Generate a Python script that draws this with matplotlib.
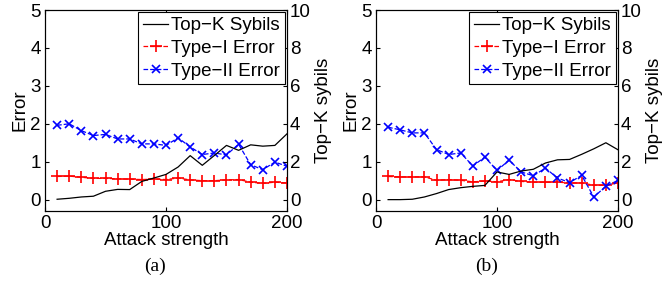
import numpy as np
import matplotlib
matplotlib.use('Agg')
import matplotlib.pyplot as plt

plt.rcParams['font.family'] = ['Liberation Sans', 'DejaVu Sans']
plt.rcParams['font.size'] = 13.5

# attack strength
strength = [10, 20, 30, 40, 50, 60, 70, 80, 90, 100,
            110, 120, 130, 140, 150, 160, 170, 180, 190, 200]

# panel (a)
topk_a = [0.02, 0.07, 0.14, 0.18, 0.44, 0.54, 0.53, 0.96, 1.14, 1.33,
          1.72, 2.32, 1.81, 2.33, 2.86, 2.60, 2.89, 2.82, 2.86, 3.47]
type1_a = [0.61, 0.62, 0.59, 0.56, 0.56, 0.55, 0.54, 0.53, 0.54, 0.53,
           0.57, 0.52, 0.50, 0.50, 0.52, 0.53, 0.46, 0.43, 0.46, 0.44]
type2_a = [1.96, 2.00, 1.82, 1.69, 1.72, 1.60, 1.60, 1.47, 1.47, 1.43,
           1.63, 1.39, 1.19, 1.23, 1.18, 1.46, 0.92, 0.79, 0.99, 0.88]

# panel (b)
topk_b = [0.00, 0.00, 0.02, 0.14, 0.32, 0.53, 0.63, 0.70, 0.75, 1.46,
          1.33, 1.51, 1.60, 1.93, 2.10, 2.12, 2.39, 2.68, 3.00, 2.63]
type1_b = [0.61, 0.60, 0.60, 0.60, 0.51, 0.53, 0.51, 0.47, 0.49, 0.47,
           0.53, 0.48, 0.46, 0.46, 0.46, 0.44, 0.44, 0.38, 0.38, 0.44]
type2_b = [1.91, 1.84, 1.76, 1.76, 1.32, 1.19, 1.23, 0.89, 1.12, 0.77,
           1.04, 0.73, 0.63, 0.83, 0.57, 0.45, 0.64, 0.07, 0.35, 0.51]

panels = [('(a)', topk_a, type1_a, type2_a),
          ('(b)', topk_b, type1_b, type2_b)]

fig = plt.figure(figsize=(6.62, 2.9), dpi=100)
lefts = [0.068, 0.568]

for left, (tag, topk, t1, t2) in zip(lefts, panels):
    ax = fig.add_axes([left, 0.2724, 0.3655, 0.693])
    ax2 = ax.twinx()

    h1, = ax2.plot(strength, topk, color='black', lw=0.9, label='Top\u2212K Sybils')
    h2, = ax.plot(strength, t1, color='red', ls='--', lw=0.9, marker='+',
                  ms=8.5, mew=1.2, label='Type\u2212I Error')
    h3, = ax.plot(strength, t2, color='blue', ls='--', lw=0.9, marker='x',
                  ms=6, mew=1.2, label='Type\u2212II Error')

    ax.set_xlim(0, 200)
    ax.set_ylim(-0.3, 5)
    ax2.set_ylim(-0.6, 10)
    ax.set_xticks([0, 100, 200])
    ax.set_yticks([0, 1, 2, 3, 4, 5])
    ax2.set_yticks([0, 2, 4, 6, 8, 10])
    ax.tick_params(direction='in', length=3, top=True, pad=3)
    ax2.tick_params(direction='in', length=3, pad=2)

    ax.set_xlabel('Attack strength', labelpad=0)
    ax.set_ylabel('Error', labelpad=1)
    ax2.set_ylabel('Top\u2212K sybils', labelpad=3)

    leg = ax2.legend(handles=[h1, h2, h3], loc='upper right', fontsize=13.5,
                     handlelength=1.35, handletextpad=0.15, labelspacing=0.3,
                     borderpad=0.25, borderaxespad=0.12, fancybox=False,
                     framealpha=1)
    leg.get_frame().set_edgecolor('black')
    leg.get_frame().set_linewidth(0.8)

    fig.text(left + 0.3655 / 2 - 0.016, 0.08, tag, ha='center', va='center',
             fontsize=14, family=['Liberation Serif', 'DejaVu Serif'])

fig.savefig('out.png', dpi=100)
